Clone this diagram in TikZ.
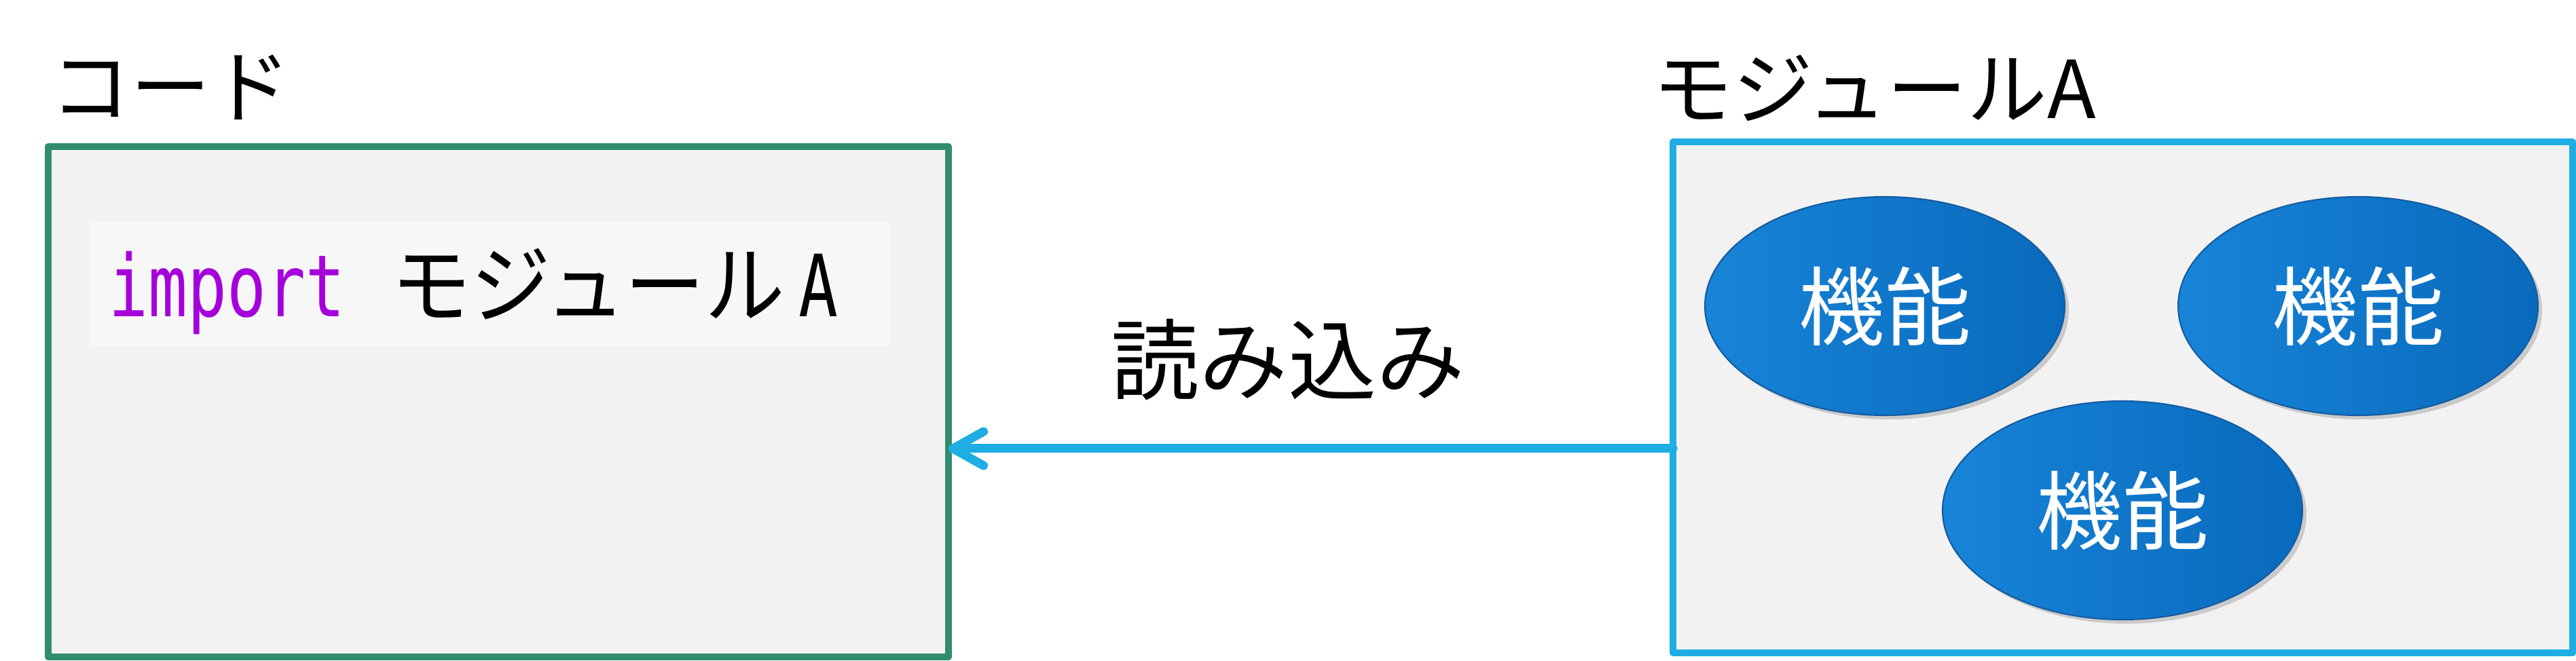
\documentclass[tikz,border=0pt]{standalone}
\usepackage{fontspec}
\setmainfont{Noto Sans CJK JP}
\newfontfamily\codefont{DejaVu Sans Mono}
\usepackage{graphicx}
\usetikzlibrary{shapes.geometric,shadows,arrows.meta}
\definecolor{codegreen}{RGB}{49,140,112}
\definecolor{modblue}{RGB}{30,174,228}
\definecolor{panelgray}{RGB}{242,242,242}
\definecolor{codebg}{RGB}{247,247,247}
\definecolor{importpurple}{RGB}{165,0,220}
\definecolor{funcleft}{RGB}{24,132,216}
\definecolor{funcright}{RGB}{8,106,188}
\definecolor{funcedge}{RGB}{20,92,160}
\begin{document}
\begin{tikzpicture}[line join=round,line cap=round,
  panel/.style={fill=panelgray,line width=0.1cm,inner sep=0pt,outer sep=0pt},
  title/.style={anchor=base west,inner sep=0pt,font=\fontsize{33.5}{40}\selectfont},
  func/.style={ellipse,minimum width=5.3cm,minimum height=3.22cm,inner sep=0pt,
    left color=funcleft,right color=funcright,draw=funcedge,line width=0.6pt,
    drop shadow={shadow xshift=0.06cm,shadow yshift=-0.06cm,opacity=0.35},
    text=white,font=\fontsize{36}{40}\selectfont},
  readarrow/.style={draw=modblue,line width=0.13cm,
    -{Straight Barb[length=0.45cm,width=0.5cm,round]}}]
\useasboundingbox (0,0) rectangle (37.94,-9.74);
\node[panel,draw=codegreen,minimum width=13.26cm,minimum height=7.52cm] (code) at (7.34,-5.92) {};
\node[panel,draw=modblue,minimum width=13.25cm,minimum height=7.53cm] (module) at (31.265,-5.855) {};
\node[fill=codebg,minimum width=11.79cm,minimum height=1.83cm,inner sep=0pt] (codeline) at (7.215,-4.175) {};
\node[anchor=base west,inner sep=0pt,font=\fontsize{36}{40}\selectfont] (stmt) at (1.60,-4.67)
  {{\codefont\color{importpurple}\scalebox{0.76}[1]{import}}\hspace{0.68cm}\scalebox{0.93}[1]{モジュール}\hspace{0.2cm}{\codefont\scalebox{0.76}[1]{A}}};
\node[title] (codetitle) at (0.74,-1.72) {コード};
\node[title] (modtitle) at (24.34,-1.75) {モジュールA};
\node[func] (f1) at (27.76,-4.51) {機能};
\node[func] (f2) at (34.73,-4.51) {機能};
\node[func] (f3) at (31.26,-7.52) {機能};
\draw[readarrow] (module.west |- 0,-6.61) -- (code.east |- 0,-6.61);
\node[font=\fontsize{37}{44}\selectfont] (readlabel) at (18.97,-5.30) {読み込み};
\end{tikzpicture}
\end{document}
